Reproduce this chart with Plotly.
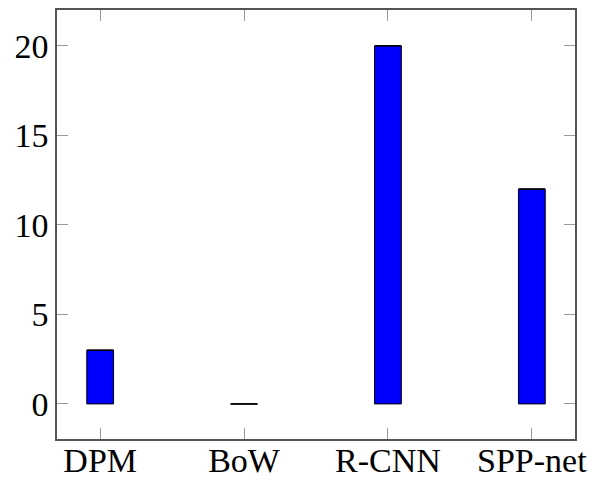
import plotly.graph_objects as go

methods = ["DPM", "BoW", "R-CNN", "SPP-net"]
values = [3, 0, 20, 12]
y_ticks = [0, 5, 10, 15, 20]

bar_w = 0.186
font = dict(family="Liberation Serif", size=34, color="black")

fig = go.Figure()
fig.add_trace(go.Bar(
    x=methods, y=values, width=bar_w,
    marker=dict(color="#0000ff", line=dict(color="black", width=1)),
    showlegend=False,
))
# outline of each bar's top edge, so a zero-height bar still shows as a line
fig.add_trace(go.Scatter(
    x=methods, y=values, mode="markers",
    marker=dict(symbol="line-ew", size=19, line=dict(color="black", width=1.5)),
    showlegend=False, hoverinfo="skip",
))

axis_common = dict(
    showline=True, linecolor="#555555", linewidth=1.5, mirror="allticks",
    ticks="inside", ticklen=11, tickcolor="#999999", tickwidth=1,
    showgrid=False, zeroline=False, tickfont=font, automargin=False,
)
fig.update_layout(
    width=593, height=481,
    margin=dict(l=57, r=18, t=10, b=42),
    paper_bgcolor="white", plot_bgcolor="white",
    xaxis=dict(range=[-0.3, 3.3], ticklabelstandoff=-10, **axis_common),
    yaxis=dict(range=[-1.96, 22.0], tickvals=y_ticks, **axis_common),
)
fig.write_html("out.html")
